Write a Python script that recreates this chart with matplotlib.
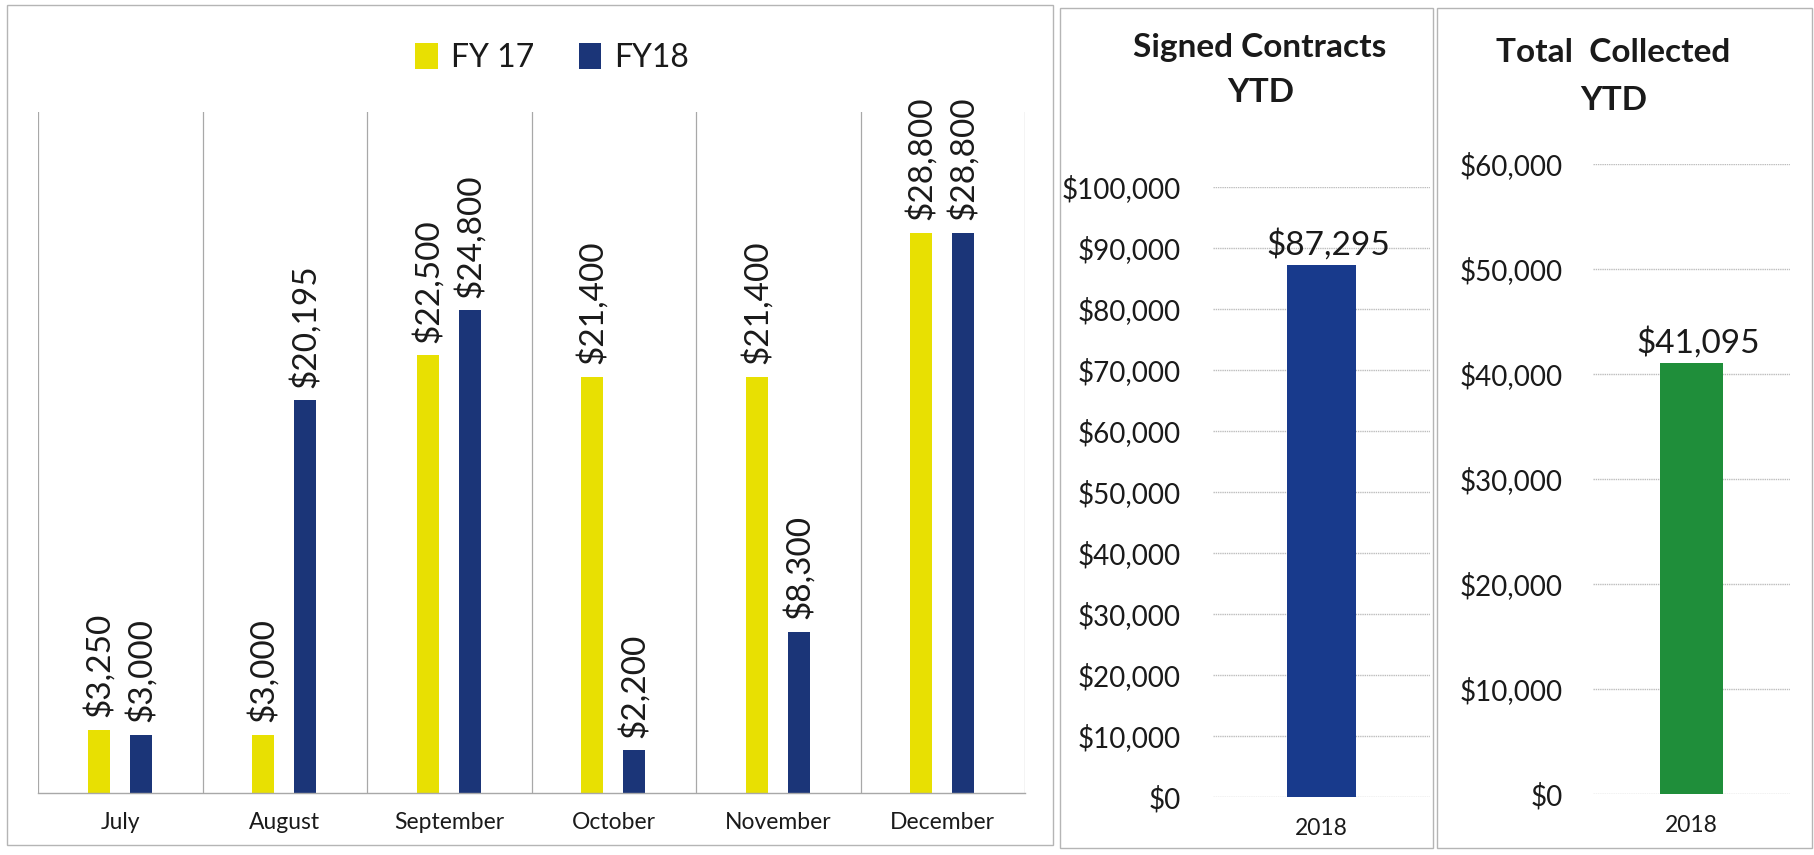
import matplotlib
matplotlib.use("Agg")
import matplotlib.pyplot as plt
from matplotlib.patches import Rectangle

plt.rcParams['font.family'] = ['Lato', 'DejaVu Sans']

# ---- data ----
months = ["July", "August", "September", "October", "November", "December"]
fy17 = [3250, 3000, 22500, 21400, 21400, 28800]
fy18 = [3000, 20195, 24800, 2200, 8300, 28800]
series_names = ["FY 17", "FY18"]

signed_label = ["2018"]
signed_value = [87295]
signed_ticks = [0, 10000, 20000, 30000, 40000, 50000, 60000, 70000, 80000, 90000, 100000]

collected_label = ["2018"]
collected_value = [41095]
collected_ticks = [0, 10000, 20000, 30000, 40000, 50000, 60000]

YELLOW = "#E8E002"
NAVY = "#1B3578"
BLUE2 = "#183A8C"
GREEN = "#1F8E3A"
GRID = "#BDBDBD"
TXT = "#1a1a1a"

W, H = 1815, 855
fig = plt.figure(figsize=(W / 100, H / 100), dpi=100)


def fx(px):
    return px / W


def fy(py):
    return 1 - py / H


def money(v):
    return f"${v:,.0f}"


# ---- panel borders ----
for (x0, y0, x1, y1) in [(7, 5, 1053, 845), (1060, 8, 1433, 848), (1437, 8, 1812, 848)]:
    fig.patches.append(Rectangle((fx(x0), fy(y1)), fx(x1 - x0), (y1 - y0) / H,
                                 transform=fig.transFigure, fill=False,
                                 edgecolor="#B5B5B5", lw=1.0))

# ---- panel 1: monthly grouped bars ----
ax1 = fig.add_axes([fx(38), fy(793), fx(1025 - 38), (793 - 112) / H])
x = list(range(len(months)))
bw = 0.135
b1 = ax1.bar([i - 0.13 for i in x], fy17, width=bw, color=YELLOW, label=series_names[0])
b2 = ax1.bar([i + 0.125 for i in x], fy18, width=bw, color=NAVY, label=series_names[1])
ax1.set_xlim(-0.5, len(months) - 0.5)
ax1.set_ylim(0, 35000)
for s in ["top", "left", "right"]:
    ax1.spines[s].set_visible(False)
ax1.spines["bottom"].set_color("#A8A8A8")
ax1.spines["bottom"].set_linewidth(1.0)
for k in range(len(months) + 1):
    ax1.axvline(k - 0.5, color="#A8A8A8", lw=0.9, zorder=0)
ax1.set_yticks([])
ax1.set_xticks(x)
ax1.set_xticklabels(months, fontsize=16.5, color=TXT)
ax1.tick_params(axis="x", length=0, pad=14)
for bars, vals in [(b1, fy17), (b2, fy18)]:
    for rect, v in zip(bars, vals):
        ax1.annotate(money(v), (rect.get_x() + rect.get_width() / 2, v),
                     xytext=(0, 9), textcoords="offset points",
                     rotation=90, ha="center", va="bottom",
                     fontsize=24, color=TXT)

fig.legend(handles=[b1, b2], labels=series_names, loc="center",
           bbox_to_anchor=(fx(552), fy(58)), ncol=2, frameon=False,
           fontsize=23, handlelength=0.7, handleheight=0.9,
           handletextpad=0.4, columnspacing=1.4, labelcolor=TXT)


# ---- helper for single-bar panels ----
def single_panel(rect, cats, vals, ticks, color, pad):
    ax = fig.add_axes(rect)
    bars = ax.bar(range(len(cats)), vals, width=0.32, color=color, zorder=2)
    ax.set_xlim(-0.5, 0.5)
    ax.set_ylim(ticks[0], ticks[-1])
    ax.set_yticks(ticks)
    ax.set_yticklabels([money(t) for t in ticks], fontsize=20, color=TXT)
    ax.set_xticks(range(len(cats)))
    ax.set_xticklabels(cats, fontsize=16.5, color=TXT)
    ax.tick_params(axis="y", length=0, pad=pad)
    ax.tick_params(axis="x", length=0, pad=15)
    for s in ax.spines.values():
        s.set_visible(False)
    ax.grid(axis="y", color=GRID, lw=1.0, linestyle=(0, (1, 0.6)), zorder=0)
    ax.set_axisbelow(True)
    for r, v in zip(bars, vals):
        ax.annotate(money(v), (r.get_x() + r.get_width() / 2, v),
                    xytext=(5, 3), textcoords="offset points",
                    ha="center", va="bottom", fontsize=24, color=TXT)
    return ax


ax2 = single_panel([fx(1213), fy(797), fx(1430 - 1213), (797 - 187) / H],
                   signed_label, signed_value, signed_ticks, BLUE2, 23)
ax3 = single_panel([fx(1593), fy(794), fx(1790 - 1593), (794 - 164) / H],
                   collected_label, collected_value, collected_ticks, GREEN, 22)

# ---- titles ----
fig.text(fx(1260), fy(47), "Signed Contracts", ha="center", va="center",
         fontsize=24, fontweight="bold", color=TXT)
fig.text(fx(1261), fy(93), "YTD", ha="center", va="center",
         fontsize=24, fontweight="bold", color=TXT)
fig.text(fx(1613), fy(53), "Total  Collected", ha="center", va="center",
         fontsize=24, fontweight="bold", color=TXT)
fig.text(fx(1614), fy(100), "YTD", ha="center", va="center",
         fontsize=24, fontweight="bold", color=TXT)

fig.savefig("out.png", dpi=100, facecolor="white")
